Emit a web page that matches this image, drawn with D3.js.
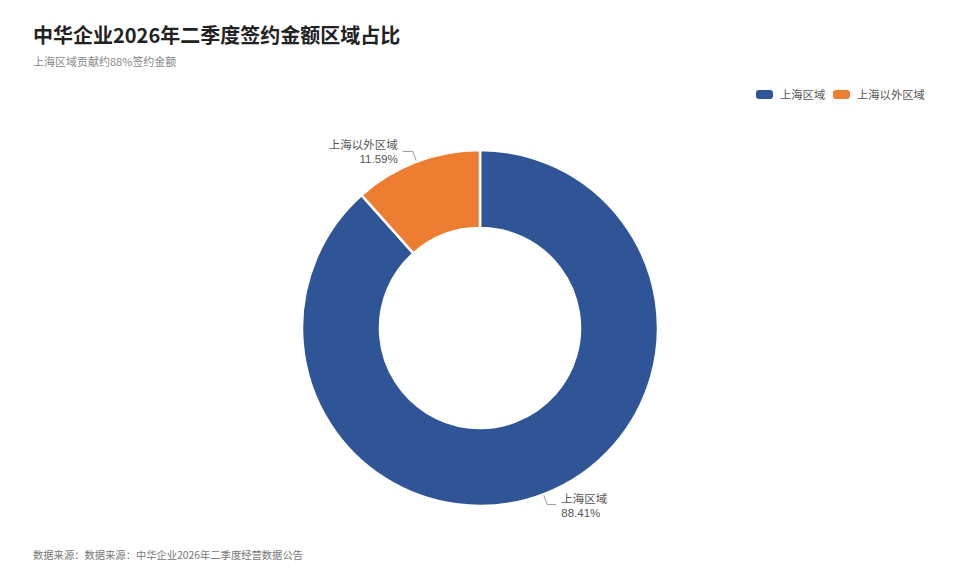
<!DOCTYPE html>
<html>
<head>
<meta charset="utf-8">
<script src="https://cdn.jsdelivr.net/npm/d3@7/dist/d3.min.js"></script>
<style>
  html, body { margin: 0; padding: 0; background: #fff; }
  svg { display: block; font-family: "Noto Sans CJK SC", "Noto Sans", sans-serif; }
</style>
</head>
<body>
<svg id="chart" width="960" height="576"></svg>
<script>
const categories = ["上海区域", "上海以外区域"];
const values = [88.41, 11.59];
const colors = ["#2F5597", "#ED7D31"];
const title = "中华企业2026年二季度签约金额区域占比";
const subtitle = "上海区域贡献约88%签约金额";
const source = "数据来源：数据来源：中华企业2026年二季度经营数据公告";

const svg = d3.select("#chart");
const W = 960, H = 576;
svg.append("rect").attr("width", W).attr("height", H).attr("fill", "#fff");

svg.append("text").attr("x", 33).attr("y", 43)
  .attr("font-size", 20).attr("font-weight", "bold").attr("fill", "#222")
  .text(title);
svg.append("text").attr("x", 33).attr("y", 66)
  .attr("font-size", 11).attr("fill", "#888")
  .text(subtitle);
svg.append("text").attr("x", 33).attr("y", 559)
  .attr("font-size", 10.3).attr("fill", "#777")
  .text(source);

// legend
const legend = svg.append("g");
const legendX = [756, 833];
categories.forEach((c, i) => {
  const g = legend.append("g").attr("transform", `translate(${legendX[i]},90)`);
  g.append("rect").attr("width", 17).attr("height", 9).attr("rx", 3).attr("fill", colors[i]);
  g.append("text").attr("x", 24).attr("y", 8.5).attr("font-size", 11.3).attr("fill", "#555").text(c);
});

const cx = 480, cy = 328, outerR = 178, innerR = 100;
const data = categories.map((c, i) => ({ name: c, value: values[i], color: colors[i] }));
const pie = d3.pie().value(d => d.value).sort(null);
const arcs = pie(data);
const arc = d3.arc().innerRadius(innerR).outerRadius(outerR);

const g = svg.append("g").attr("transform", `translate(${cx},${cy})`);
g.selectAll("path.slice").data(arcs).join("path")
  .attr("class", "slice")
  .attr("d", arc)
  .attr("fill", d => d.data.color)
  .attr("stroke", "#fff").attr("stroke-width", 2.5);

// labels
const total = d3.sum(values);
arcs.forEach(a => {
  const mid = (a.startAngle + a.endAngle) / 2;
  const sx = Math.sin(mid), sy = -Math.cos(mid);
  const p0 = [sx * (outerR + 1), sy * (outerR + 1)];
  const p1 = [sx * (outerR + 11), sy * (outerR + 11)];
  const right = sx >= 0;
  const p2 = [p1[0] + (right ? 9 : -10), p1[1]];
  g.append("polyline")
    .attr("points", [p0, p1, p2].map(p => p.join(",")).join(" "))
    .attr("fill", "none").attr("stroke", "#999").attr("stroke-width", 1);
  const tx = p2[0] + (right ? 5 : -5);
  const anchor = right ? "start" : "end";
  g.append("text").attr("x", tx).attr("y", p2[1] - 2)
    .attr("text-anchor", anchor)
    .attr("font-size", 11.5).attr("fill", "#555")
    .text(a.data.name);
  g.append("text").attr("x", tx).attr("y", p2[1] + 12)
    .attr("text-anchor", anchor)
    .attr("font-family", "'Liberation Sans', Arial, sans-serif")
    .attr("font-size", 11.5).attr("fill", "#555")
    .text((a.data.value / total * 100).toFixed(2) + "%");
});
</script>
</body>
</html>
